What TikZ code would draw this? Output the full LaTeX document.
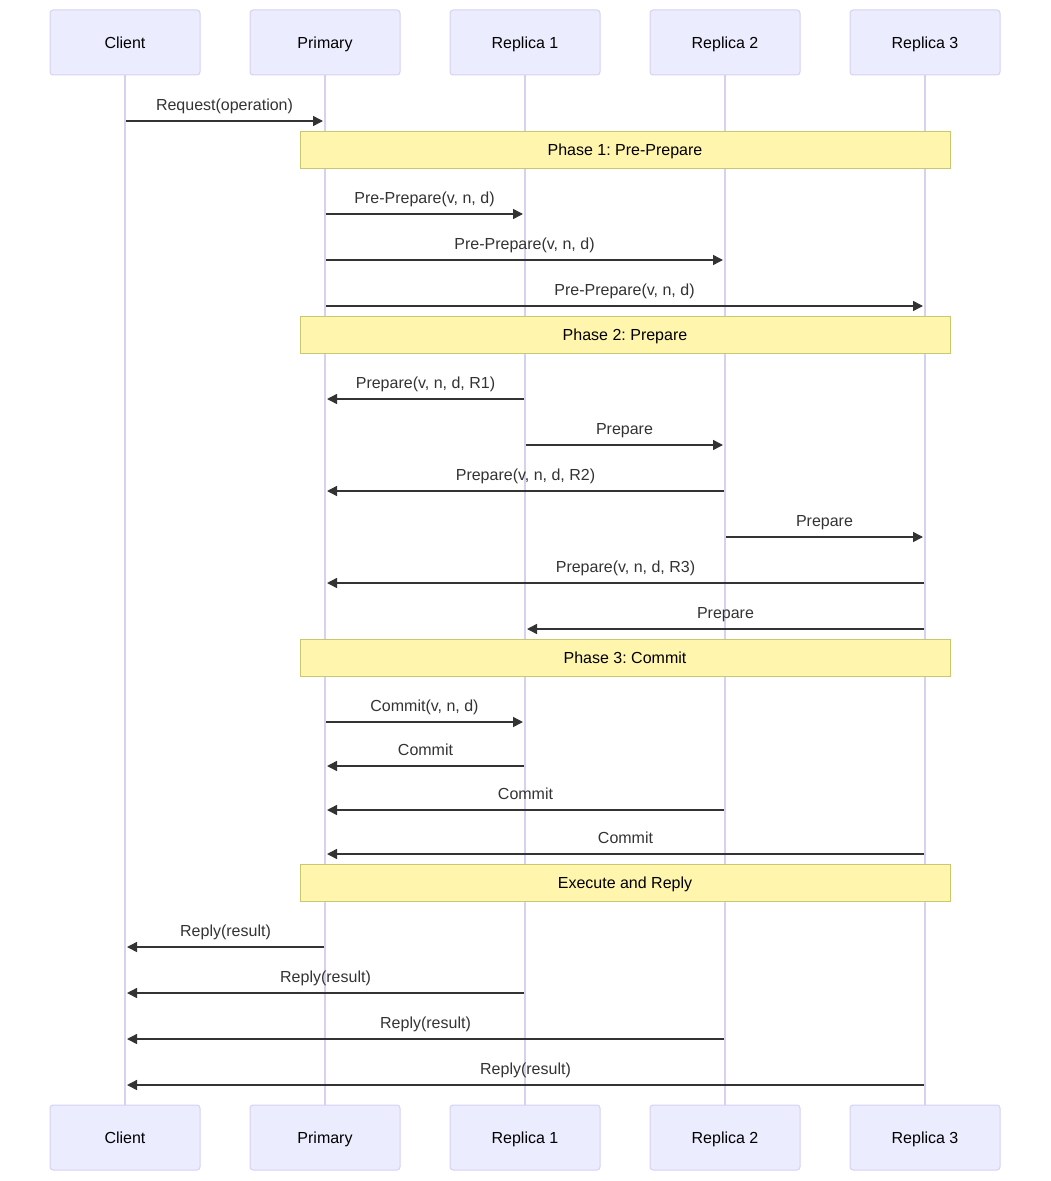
\documentclass[tikz,border=0pt]{standalone}
\usepackage{fontspec}
\setmainfont{Liberation Sans}
\usetikzlibrary{arrows.meta,calc}
\definecolor{actfill}{HTML}{ECECFF}
\definecolor{actdraw}{HTML}{D6D1F3}
\definecolor{lifeline}{HTML}{D8D0F0}
\definecolor{notefill}{HTML}{FFF5AD}
\definecolor{notedraw}{HTML}{C8C870}
\definecolor{msgcol}{HTML}{333333}
\tikzset{
  actor/.style={draw=actdraw, fill=actfill, line width=0.75pt, rounded corners=2.25pt,
    minimum width=112.5pt, minimum height=48.75pt, inner sep=0pt, text height=8.6pt, text depth=0pt,
    font=\fontsize{12pt}{14pt}\selectfont, text=black},
  lifeln/.style={draw=lifeline, line width=1.2pt},
  notebox/.style={draw=notedraw, fill=notefill, line width=0.75pt,
    minimum width=487.5pt, minimum height=27.75pt, inner sep=0pt, text height=8.6pt, text depth=0pt,
    font=\fontsize{12pt}{14pt}\selectfont, text=black},
  msgline/.style={draw=msgcol, line width=1.1pt, -{Triangle[length=7.5pt,width=7.5pt]}},
  msglabel/.style={font=\fontsize{12pt}{14pt}\selectfont, text=msgcol, inner sep=0pt, anchor=base}
}
\newcommand{\msgdraw}[5]{%
  \coordinate (#1s) at (#2,#4);
  \coordinate (#1e) at (#3,#4);
  \draw[msgline] (#1s) -- (#1e);
  \node[msglabel] (#1l) at ($(#1s)!0.5!(#1e)+(0,-11)$) {#5};
}
\begin{document}
\frenchspacing
\begin{tikzpicture}[x=0.75pt,y=-0.75pt]
\useasboundingbox (0,0) rectangle (1050,1181);
% lifelines
\foreach \n/\x in {c/125,p/325,a/525,b/725,d/925}{
  \coordinate (\n top) at (\x,75);
  \coordinate (\n bot) at (\x,1105);
}
\draw[lifeln] (ctop) -- (cbot);
\draw[lifeln] (ptop) -- (pbot);
\draw[lifeln] (atop) -- (abot);
\draw[lifeln] (btop) -- (bbot);
\draw[lifeln] (dtop) -- (dbot);
% actors
\node[actor] (c1) at (125,42.5) {Client};
\node[actor] (p1) at (325,42.5) {Primary};
\node[actor] (a1) at (525,42.5) {Replica 1};
\node[actor] (b1) at (725,42.5) {Replica 2};
\node[actor] (d1) at (925,42.5) {Replica 3};
\node[actor] (c2) at (125,1137.5) {Client};
\node[actor] (p2) at (325,1137.5) {Primary};
\node[actor] (a2) at (525,1137.5) {Replica 1};
\node[actor] (b2) at (725,1137.5) {Replica 2};
\node[actor] (d2) at (925,1137.5) {Replica 3};
% notes
\node[notebox] (n1) at (625,149.5) {Phase 1: Pre-Prepare};
\node[notebox] (n2) at (625,334.5) {Phase 2: Prepare};
\node[notebox] (n3) at (625,657.5) {Phase 3: Commit};
\node[notebox] (n4) at (625,882.5) {Execute and Reply};
% messages
\msgdraw{m1}{126}{323}{121}{Request(operation)}
\msgdraw{m2}{326}{523}{214}{Pre-Prepare(v, n, d)}
\msgdraw{m3}{326}{723}{260}{Pre-Prepare(v, n, d)}
\msgdraw{m4}{326}{923}{306}{Pre-Prepare(v, n, d)}
\msgdraw{m5}{524}{327}{399}{Prepare(v, n, d, R1)}
\msgdraw{m6}{526}{723}{445}{Prepare}
\msgdraw{m7}{724}{327}{491}{Prepare(v, n, d, R2)}
\msgdraw{m8}{726}{923}{537}{Prepare}
\msgdraw{m9}{924}{327}{583}{Prepare(v, n, d, R3)}
\msgdraw{m10}{924}{527}{629}{Prepare}
\msgdraw{m11}{326}{523}{722}{Commit(v, n, d)}
\msgdraw{m12}{524}{327}{766}{Commit}
\msgdraw{m13}{724}{327}{810}{Commit}
\msgdraw{m14}{924}{327}{854}{Commit}
\msgdraw{m15}{324}{127}{947}{Reply(result)}
\msgdraw{m16}{524}{127}{993}{Reply(result)}
\msgdraw{m17}{724}{127}{1039}{Reply(result)}
\msgdraw{m18}{924}{127}{1085}{Reply(result)}
\end{tikzpicture}
\end{document}
